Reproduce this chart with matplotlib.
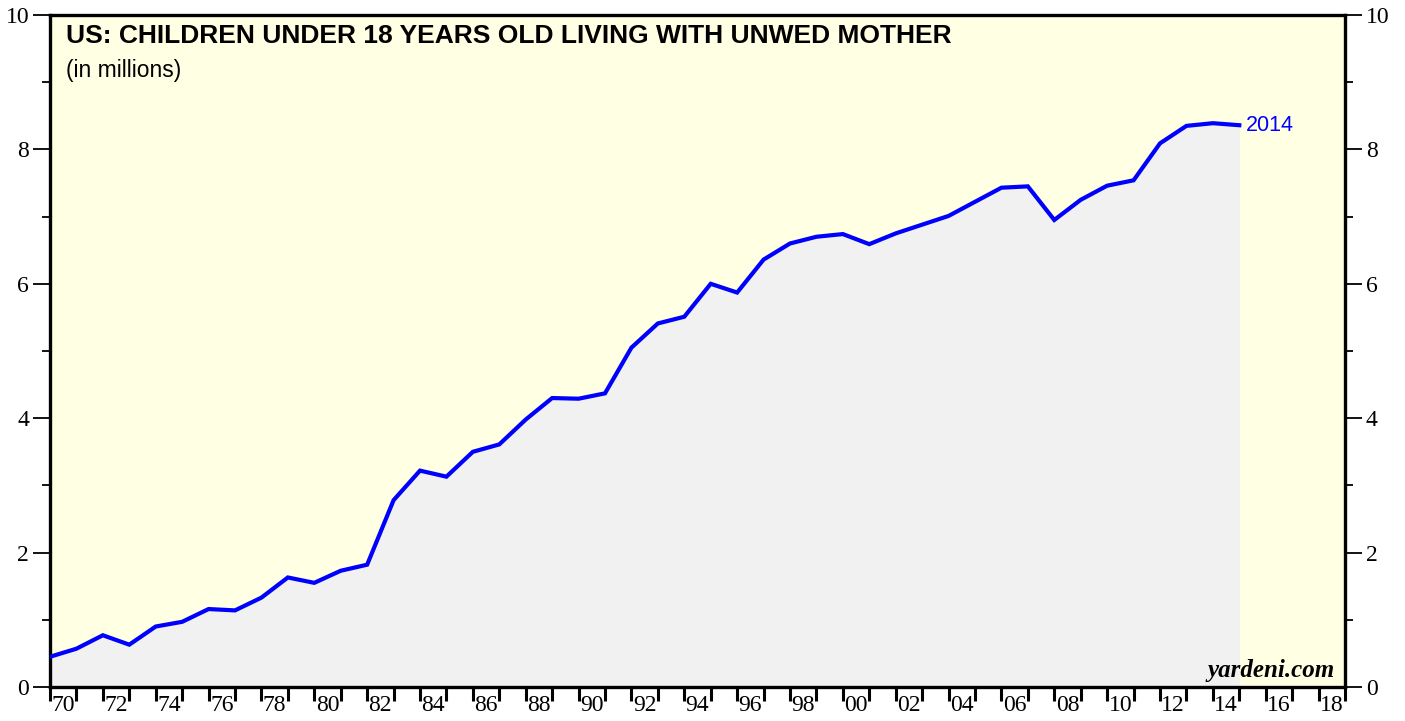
import matplotlib
matplotlib.use("Agg")
import matplotlib.pyplot as plt
from matplotlib.ticker import FixedLocator, NullFormatter

years = list(range(1969, 2015))
values = [0.45, 0.57, 0.77, 0.63, 0.90, 0.97, 1.16, 1.14, 1.33, 1.63,
          1.55, 1.73, 1.82, 2.78, 3.22, 3.13, 3.50, 3.61, 3.98, 4.30,
          4.29, 4.37, 5.05, 5.41, 5.51, 6.00, 5.87, 6.36, 6.60, 6.70,
          6.74, 6.59, 6.75, 6.88, 7.01, 7.22, 7.43, 7.45, 6.95, 7.25,
          7.46, 7.54, 8.09, 8.35, 8.39, 8.36]
year_labels = [f"{y % 100:02d}" for y in range(1970, 2019, 2)]
label_years = list(range(1970, 2019, 2))
y_major = [0, 2, 4, 6, 8, 10]
y_minor = [1, 3, 5, 7, 9]

title = "US: CHILDREN UNDER 18 YEARS OLD LIVING WITH UNWED MOTHER"
subtitle = "(in millions)"

W, H = 1405, 721
fig = plt.figure(figsize=(W / 100, H / 100), dpi=100)
ax = fig.add_axes([50 / W, (H - 687) / H, (1345 - 50) / W, (687 - 15) / H])
ax.set_facecolor("#FFFFE3")

# data plotted at year end
xs = [y + 1 for y in years]
ax.fill_between(xs, 0, values, color="#F1F1F1", lw=0, zorder=1)
ax.plot(xs, values, color="#0000FF", lw=3.0, zorder=3, solid_joinstyle="miter")

ax.set_xlim(1970, 2019)
ax.set_ylim(0, 10)

for s in ax.spines.values():
    s.set_linewidth(2.4)
    s.set_color("black")

serif = "Liberation Serif"
# y ticks both sides
ax.yaxis.set_major_locator(FixedLocator(y_major))
ax.yaxis.set_minor_locator(FixedLocator(y_minor))
ax.tick_params(axis="y", which="major", length=12, width=1.3, direction="out",
               left=True, right=True, labelleft=True, labelright=True,
               labelsize=17, pad=3)
ax.tick_params(axis="y", which="minor", length=6, width=1.3, direction="out",
               left=True, right=True)
for lab in ax.get_yticklabels():
    lab.set_fontfamily(serif)

# x ticks at year boundaries, labels at mid-year
ax.xaxis.set_major_locator(FixedLocator(list(range(1970, 2020))))
ax.xaxis.set_major_formatter(NullFormatter())
ax.xaxis.set_minor_locator(FixedLocator([y + 0.5 for y in label_years]))
ax.set_xticklabels(year_labels, minor=True)
ax.tick_params(axis="x", which="major", length=10, width=2.2, direction="out")
ax.tick_params(axis="x", which="minor", length=0, labelsize=17, pad=6)
for lab in ax.get_xticklabels(minor=True):
    lab.set_fontfamily(serif)

ax.text(0.012, 0.987, title, transform=ax.transAxes, ha="left", va="top",
        fontsize=19, fontweight="bold", family="Liberation Sans", zorder=5)
ax.text(0.012, 0.934, subtitle, transform=ax.transAxes, ha="left", va="top",
        fontsize=16.5, family="Liberation Sans", zorder=5)

ax.text(xs[-1] + 0.25, values[-1], str(years[-1]), color="#0000FF",
        fontsize=15.5, family="Liberation Sans", ha="left", va="center", zorder=5)

ax.text(0.992, 0.008, "yardeni.com", transform=ax.transAxes, ha="right",
        va="bottom", fontsize=18, fontweight="bold", style="italic",
        family=serif, zorder=5)

fig.savefig("out.png", dpi=100)
